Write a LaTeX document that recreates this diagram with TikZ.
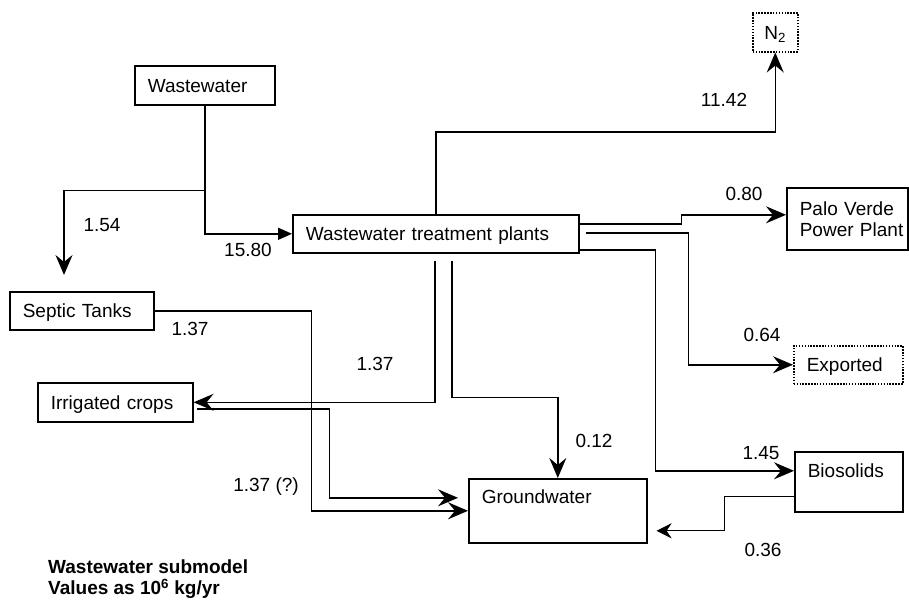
\documentclass[tikz,border=0pt]{standalone}
\usepackage{fontspec}
\setmainfont{Liberation Sans}
\usetikzlibrary{arrows.meta}

\tikzset{
	box/.style={draw,line width=1.6pt,anchor=north west,inner xsep=13pt,inner ysep=0pt,
		align=left,text height=14pt,text depth=0pt},
	sink/.style={box,line width=1.5pt,dash pattern=on 1.5pt off 1.4pt},
	val/.style={text height=13.6pt,text depth=0pt,inner sep=0pt},
	flow/.style={line width=1.5pt,-{Stealth[length=20pt,width=17pt,inset=7pt]}},
	thinflow/.style={line width=0.8pt,-{Stealth[length=15pt,width=15pt,inset=5pt]}},
}

\begin{document}
\begin{tikzpicture}[x=1pt,y=-1pt,font=\fontsize{19}{21}\selectfont]
	\useasboundingbox (0,0) rectangle (909,600);

	\node[box,text width=114pt,minimum height=39pt] (ww) at (134,65) {Wastewater};
	\node[box,text width=260pt,minimum height=38pt] (wwtp) at (292,214) {Wastewater treatment plants};
	\node[box,text width=118pt,minimum height=38pt] (septic) at (9,291) {Septic Tanks};
	\node[box,text width=129pt,minimum height=39pt] (crops) at (37,382) {Irrigated crops};
	\node[box,text width=152pt,minimum height=64pt,text height=25pt,text depth=39pt] (gw) at (468,478) {Groundwater};
	\node[box,text width=95pt,minimum height=62pt,text depth=21pt] (pv) at (786,187) {Palo~Verde\\Power~Plant};
	\node[box,text width=82pt,minimum height=60pt,text height=26pt,text depth=34pt] (bio) at (794,451) {Biosolids};
	\node[sink,text width=83pt,minimum height=38pt] (exp) at (793,345) {Exported};
	\node[sink,inner xsep=0pt,align=center,text width=45pt,minimum height=39pt] (n2) at (752,12) {N\textsubscript{2}};

	\coordinate (split) at ([yshift=-85pt]ww.south);
	\draw[flow] (ww.south) -- (split) -| ([xshift=55pt,yshift=16pt]septic.north west);
	\draw[line width=1.5pt,-{Triangle[length=14pt,width=12pt]}] (split) |- (wwtp.west);

	\draw[flow] (wwtp.north) -- ++(0,-82) -| (n2.south);
	\draw[flow] ([yshift=10pt]wwtp.east) -- ++(102,0) |- ([yshift=4pt]pv.west);
	\draw[flow] ([xshift=6pt,yshift=1pt]wwtp.east) -- ++(103,0) |- (exp.west);
	\draw[flow] ([yshift=-16pt]wwtp.east) -- ++(76,0) |- ([yshift=11pt]bio.west);
	\draw[flow] ([xshift=-1pt,yshift=-7pt]wwtp.south) |- (crops.east);
	\draw[flow] ([xshift=16pt,yshift=-7pt]wwtp.south) -- ++(0,137) -| (gw.north);

	\draw[flow] (septic.east) -- ++(157,0) |- (gw.west);
	\draw[flow] ([xshift=3pt,yshift=-6.5pt]crops.east) -- ++(133,0) |- ([xshift=-10pt,yshift=13pt]gw.west);
	\draw[thinflow] ([yshift=-15pt]bio.west) -- ++(-70,0) |- ([xshift=9pt,yshift=-20pt]gw.east);

	\foreach \n/\x/\y/\v in {a/102/225/1.54, b/248/250/15.80, c/724/100/11.42, d/744/194/0.80,
		e/762/335/0.64, f/761/453/1.45, g/763/550/0.36, h/594/441/0.12, i/190/329/1.37,
		j/375/364/1.37, k/266/485/1.37 (?)}
		\node[val] (v\n) at (\x,\y) {\v};

	\node[anchor=north west,inner sep=0pt,align=left,font=\fontsize{19}{21}\selectfont\bfseries] (legend) at (48,560)
		{Wastewater submodel\\Values as 10\textsuperscript{6} kg/yr};
\end{tikzpicture}
\end{document}
